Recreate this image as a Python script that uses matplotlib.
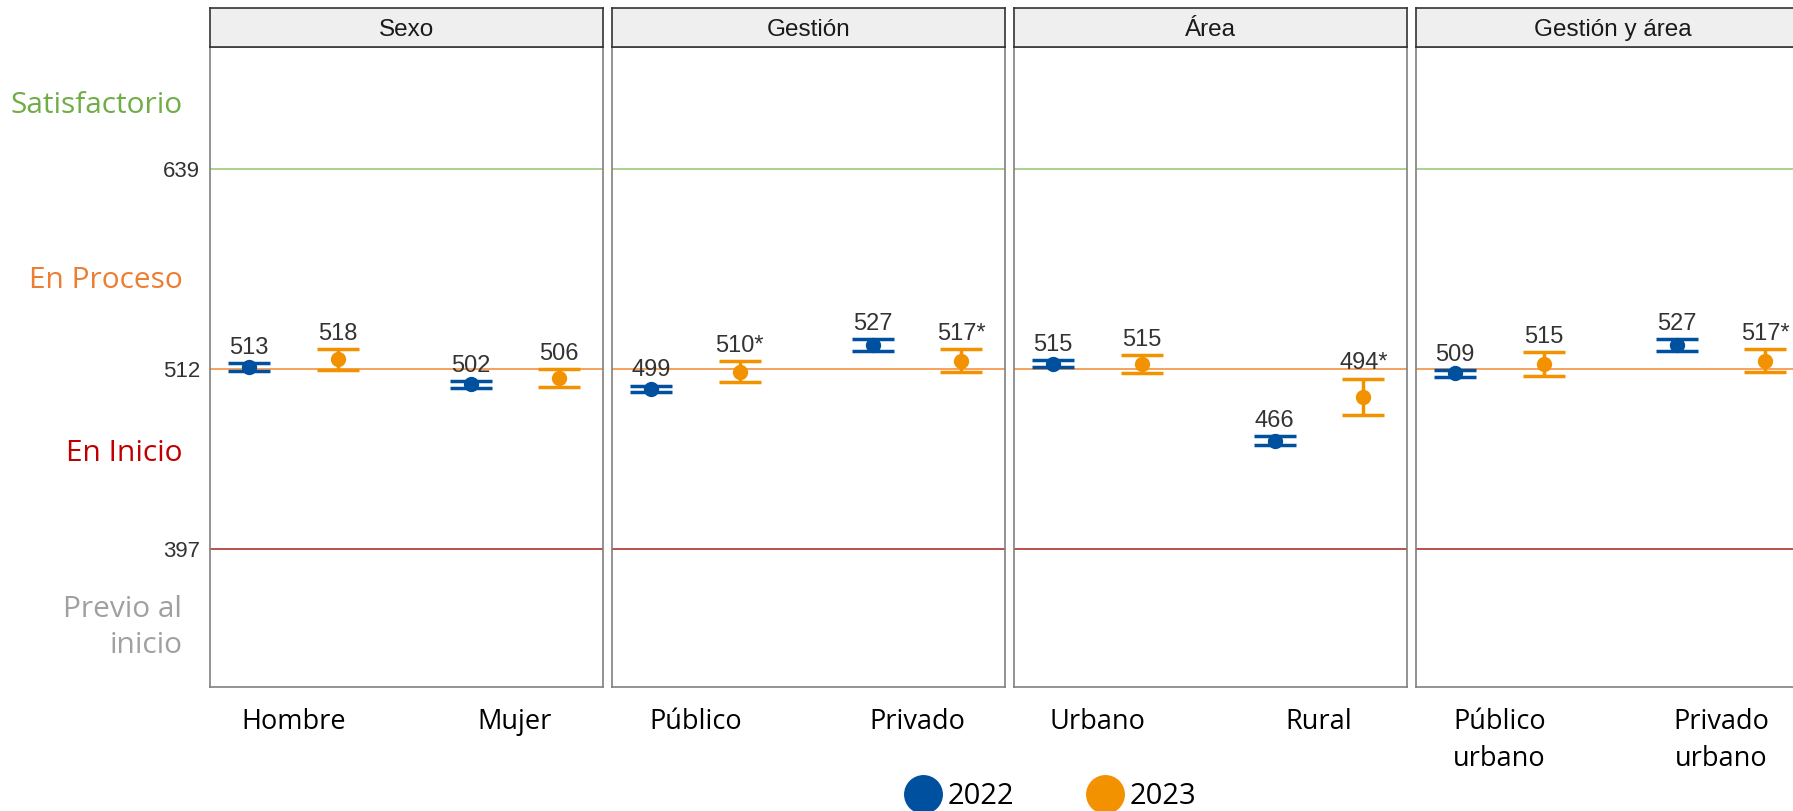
import numpy as np
import matplotlib.pyplot as plt
from matplotlib.lines import Line2D

# panels and categories
groups = ['Sexo', 'Gestión', 'Área', 'Gestión y área']
categories = [['Hombre', 'Mujer'], ['Público', 'Privado'], ['Urbano', 'Rural'],
              ['Público\nurbano', 'Privado\nurbano']]
# mean scores and half-width of interval
y2022 = [[513, 502], [499, 527], [515, 466], [509, 527]]
e2022 = [[2.5, 2.2], [2.2, 4.0], [2.2, 2.9], [2.2, 4.0]]
y2023 = [[518, 506], [510, 517], [515, 494], [515, 517]]
e2023 = [[6.6, 5.5], [6.6, 7.3], [5.8, 11.7], [7.6, 7.3]]
sig2023 = [['', ''], ['*', '*'], ['', '*'], ['', '*']]

cuts = [639, 512, 397]
cut_colors = ['#A9D18E', '#F4A15D', '#B9504C']
levels = ['Satisfactorio', 'En Proceso', 'En Inicio', 'Previo al\ninicio']
level_y = [680, 568, 458, 347]
level_colors = ['#70AD47', '#ED7D31', '#C00000', '#A0A0A0']

c22 = '#0050A0'
c23 = '#F39200'

fig = plt.figure(figsize=(17.93, 8.11), dpi=100)
left0, step, w = 0.1171, 0.2242, 0.2192
bottom, h = 0.1529, 0.789

for i, g in enumerate(groups):
    ax = fig.add_axes([left0 + i * step, bottom, w, h])
    x = np.arange(1, 3)
    for c, col in zip(cuts, cut_colors):
        ax.axhline(c, color=col, lw=1.4, zorder=1)
    ax.errorbar(x - 0.2, y2022[i], yerr=e2022[i], fmt='o', color=c22, ms=10,
                capsize=15, capthick=2.5, elinewidth=2.5, zorder=3)
    ax.errorbar(x + 0.2, y2023[i], yerr=e2023[i], fmt='o', color=c23, ms=10,
                capsize=15, capthick=2.5, elinewidth=2.5, zorder=3)
    for j in range(2):
        ax.annotate(str(y2022[i][j]), (x[j] - 0.2, y2022[i][j] + e2022[i][j]),
                    xytext=(0, 3), textcoords='offset points', ha='center', va='bottom',
                    fontsize=17, color='#333333', family='Liberation Sans')
        ax.annotate(str(y2023[i][j]) + sig2023[i][j], (x[j] + 0.2, y2023[i][j] + e2023[i][j]),
                    xytext=(0, 3), textcoords='offset points', ha='center', va='bottom',
                    fontsize=17, color='#333333', family='Liberation Sans')
    ax.set_xlim(0.624, 2.397)
    ax.set_ylim(309, 717)
    ax.set_xticks(x)
    ax.set_xticklabels(categories[i], fontsize=19.5, family='Open Sans', linespacing=1.45)
    ax.tick_params(axis='x', length=0, pad=15)
    if i == 0:
        ax.set_yticks(cuts)
        ax.set_yticklabels([str(c) for c in cuts], fontsize=16, color='#333333',
                           family='Liberation Sans')
        ax.tick_params(axis='y', length=0, pad=7)
    else:
        ax.set_yticks([])
    for s in ax.spines.values():
        s.set_color('#808080')
        s.set_linewidth(1.2)

    # strip on top
    st = fig.add_axes([left0 + i * step, 0.942, w, 0.048])
    st.set_facecolor('#EFEFEF')
    st.set_xticks([])
    st.set_yticks([])
    for s in st.spines.values():
        s.set_color('#333333')
        s.set_linewidth(1.2)
    st.text(0.5, 0.45, g, ha='center', va='center', fontsize=17.5,
            family='Liberation Sans', color='#1a1a1a', transform=st.transAxes)

    if i == 0:
        for lab, ly, lc in zip(levels, level_y, level_colors):
            ax.text(-0.07, ly, lab, ha='right', va='center', fontsize=21.5,
                    color=lc, family='Open Sans', multialignment='right',
                    linespacing=1.3, transform=ax.get_yaxis_transform())

handles = [Line2D([], [], ls='', marker='o', ms=27, color=c22),
           Line2D([], [], ls='', marker='o', ms=27, color=c23)]
fig.legend(handles, ['2022', '2023'], loc='center', bbox_to_anchor=(0.587, 0.018),
           ncol=2, frameon=False, handlelength=1.0, handletextpad=0.35,
           columnspacing=2.6, prop={'family': 'Open Sans', 'size': 21})

fig.savefig('out.png', dpi=100)
